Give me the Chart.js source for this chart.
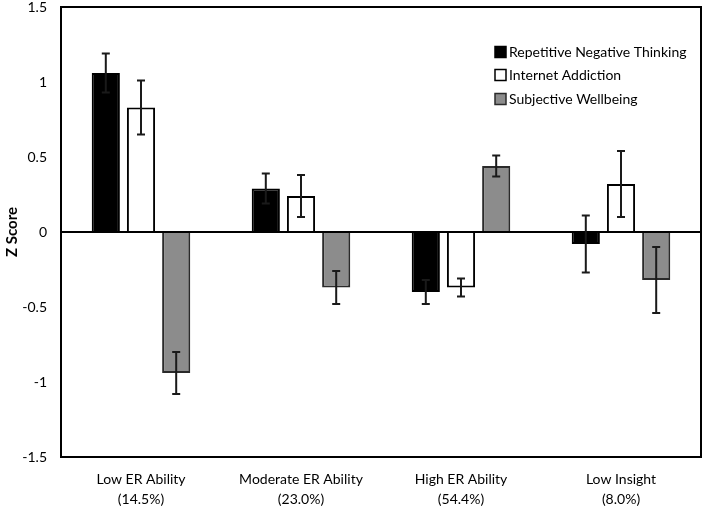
<!DOCTYPE html>
<html>
<head>
<meta charset="utf-8">
<script src="https://cdn.jsdelivr.net/npm/chart.js@4.4.0/dist/chart.umd.min.js"></script>
<style>
  html, body { margin: 0; padding: 0; background: #fff; }
  #wrap { width: 707px; height: 506px; }
</style>
</head>
<body>
<div id="wrap"><canvas id="zChart"></canvas></div>
<script>
let groups = [["Low ER Ability", "(14.5%)"], ["Moderate ER Ability", "(23.0%)"], ["High ER Ability", "(54.4%)"], ["Low Insight", "(8.0%)"]];
let seriesNames = ["Repetitive Negative Thinking", "Internet Addiction", "Subjective Wellbeing"];

let rntValues = [1.06, 0.29, -0.40, -0.08];
let iaValues = [0.83, 0.24, -0.37, 0.32];
let swbValues = [-0.94, -0.37, 0.44, -0.32];

let rntErr = [0.13, 0.10, 0.08, 0.19];
let iaErr = [0.18, 0.14, 0.06, 0.22];
let swbErr = [0.14, 0.11, 0.07, 0.22];

let yTicks = [-1.5, -1, -0.5, 0, 0.5, 1, 1.5];

let fills = ["#000000", "#ffffff", "#8c8c8c"];
let borders = ["#000000", "#000000", "#2a2a2a"];
let allErr = [rntErr, iaErr, swbErr];

let fontFam = "Lato, 'Open Sans', sans-serif";

// error bars drawn from the y scale
let errorBars = {
    id: "errorBars",
    afterDatasetsDraw(chart) {
        let ctx = chart.ctx;
        let yScale = chart.scales.y;
        ctx.save();
        ctx.strokeStyle = "#1a1a1a";
        ctx.lineWidth = 2;
        chart.data.datasets.forEach(function(ds, i) {
            let meta = chart.getDatasetMeta(i);
            meta.data.forEach(function(bar, j) {
                let v = ds.data[j];
                let e = allErr[i][j];
                let yt = yScale.getPixelForValue(v + e);
                let yb = yScale.getPixelForValue(v - e);
                ctx.beginPath();
                ctx.moveTo(bar.x, yt); ctx.lineTo(bar.x, yb);
                ctx.moveTo(bar.x - 4, yt); ctx.lineTo(bar.x + 4, yt);
                ctx.moveTo(bar.x - 4, yb); ctx.lineTo(bar.x + 4, yb);
                ctx.stroke();
            });
        });
        ctx.restore();
    }
};

// frame + legend inside plot
let frameLegend = {
    id: "frameLegend",
    afterDraw(chart) {
        let ctx = chart.ctx;
        let a = chart.chartArea;
        ctx.save();
        ctx.strokeStyle = "#000";
        ctx.lineWidth = 2;
        ctx.strokeRect(a.left, a.top, a.right - a.left, a.bottom - a.top);

        let bx = a.right - 206;
        let rows = [a.top + 45, a.top + 68, a.top + 92];
        ctx.font = "14px " + fontFam;
        ctx.textBaseline = "middle";
        seriesNames.forEach(function(name, i) {
            ctx.fillStyle = fills[i];
            ctx.fillRect(bx, rows[i] - 5.5, 11, 11);
            ctx.lineWidth = 1.5;
            ctx.strokeStyle = borders[i];
            ctx.strokeRect(bx, rows[i] - 5.5, 11, 11);
            ctx.fillStyle = "#000";
            ctx.fillText(name, bx + 14, rows[i]);
        });
        ctx.restore();
    }
};

new Chart("zChart", {
    type: "bar",
    data: {
        labels: groups,
        datasets: [
            { label: seriesNames[0], data: rntValues, backgroundColor: fills[0], borderColor: borders[0], borderWidth: 2 },
            { label: seriesNames[1], data: iaValues, backgroundColor: fills[1], borderColor: borders[1], borderWidth: 2 },
            { label: seriesNames[2], data: swbValues, backgroundColor: fills[2], borderColor: borders[2], borderWidth: 2 }
        ]
    },
    options: {
        responsive: true,
        maintainAspectRatio: false,
        animation: false,
        layout: { padding: { top: 7, right: 6 } },
        datasets: { bar: { categoryPercentage: 0.66, barPercentage: 0.8 } },
        plugins: {
            legend: { display: false },
            tooltip: { enabled: false }
        },
        scales: {
            x: {
                grid: { display: false, drawTicks: false },
                border: { display: false },
                ticks: { color: "#000", font: { family: fontFam, size: 14, lineHeight: 1.45 }, padding: 12, maxRotation: 0 },
                afterFit: function(s) { s.height = 49; s.paddingLeft = 0; s.paddingRight = 0; }
            },
            y: {
                min: -1.5,
                max: 1.5,
                afterBuildTicks: function(s) { s.ticks = yTicks.map(function(v) { return { value: v }; }); },
                grid: {
                    drawTicks: false,
                    lineWidth: 2,
                    color: function(c) { return c.tick && c.tick.value === 0 ? "#000" : "rgba(0,0,0,0)"; }
                },
                border: { display: false },
                ticks: {
                    color: "#000",
                    font: { family: fontFam, size: 14 },
                    padding: 14,
                    callback: function(v) { return String(v); }
                },
                title: { display: true, text: "Z Score", color: "#000", font: { family: fontFam, size: 15, weight: "bold" }, padding: 3 },
                afterFit: function(s) { s.width = 61; s.paddingTop = 0; s.paddingBottom = 0; }
            }
        }
    },
    plugins: [errorBars, frameLegend]
});
</script>
</body>
</html>
